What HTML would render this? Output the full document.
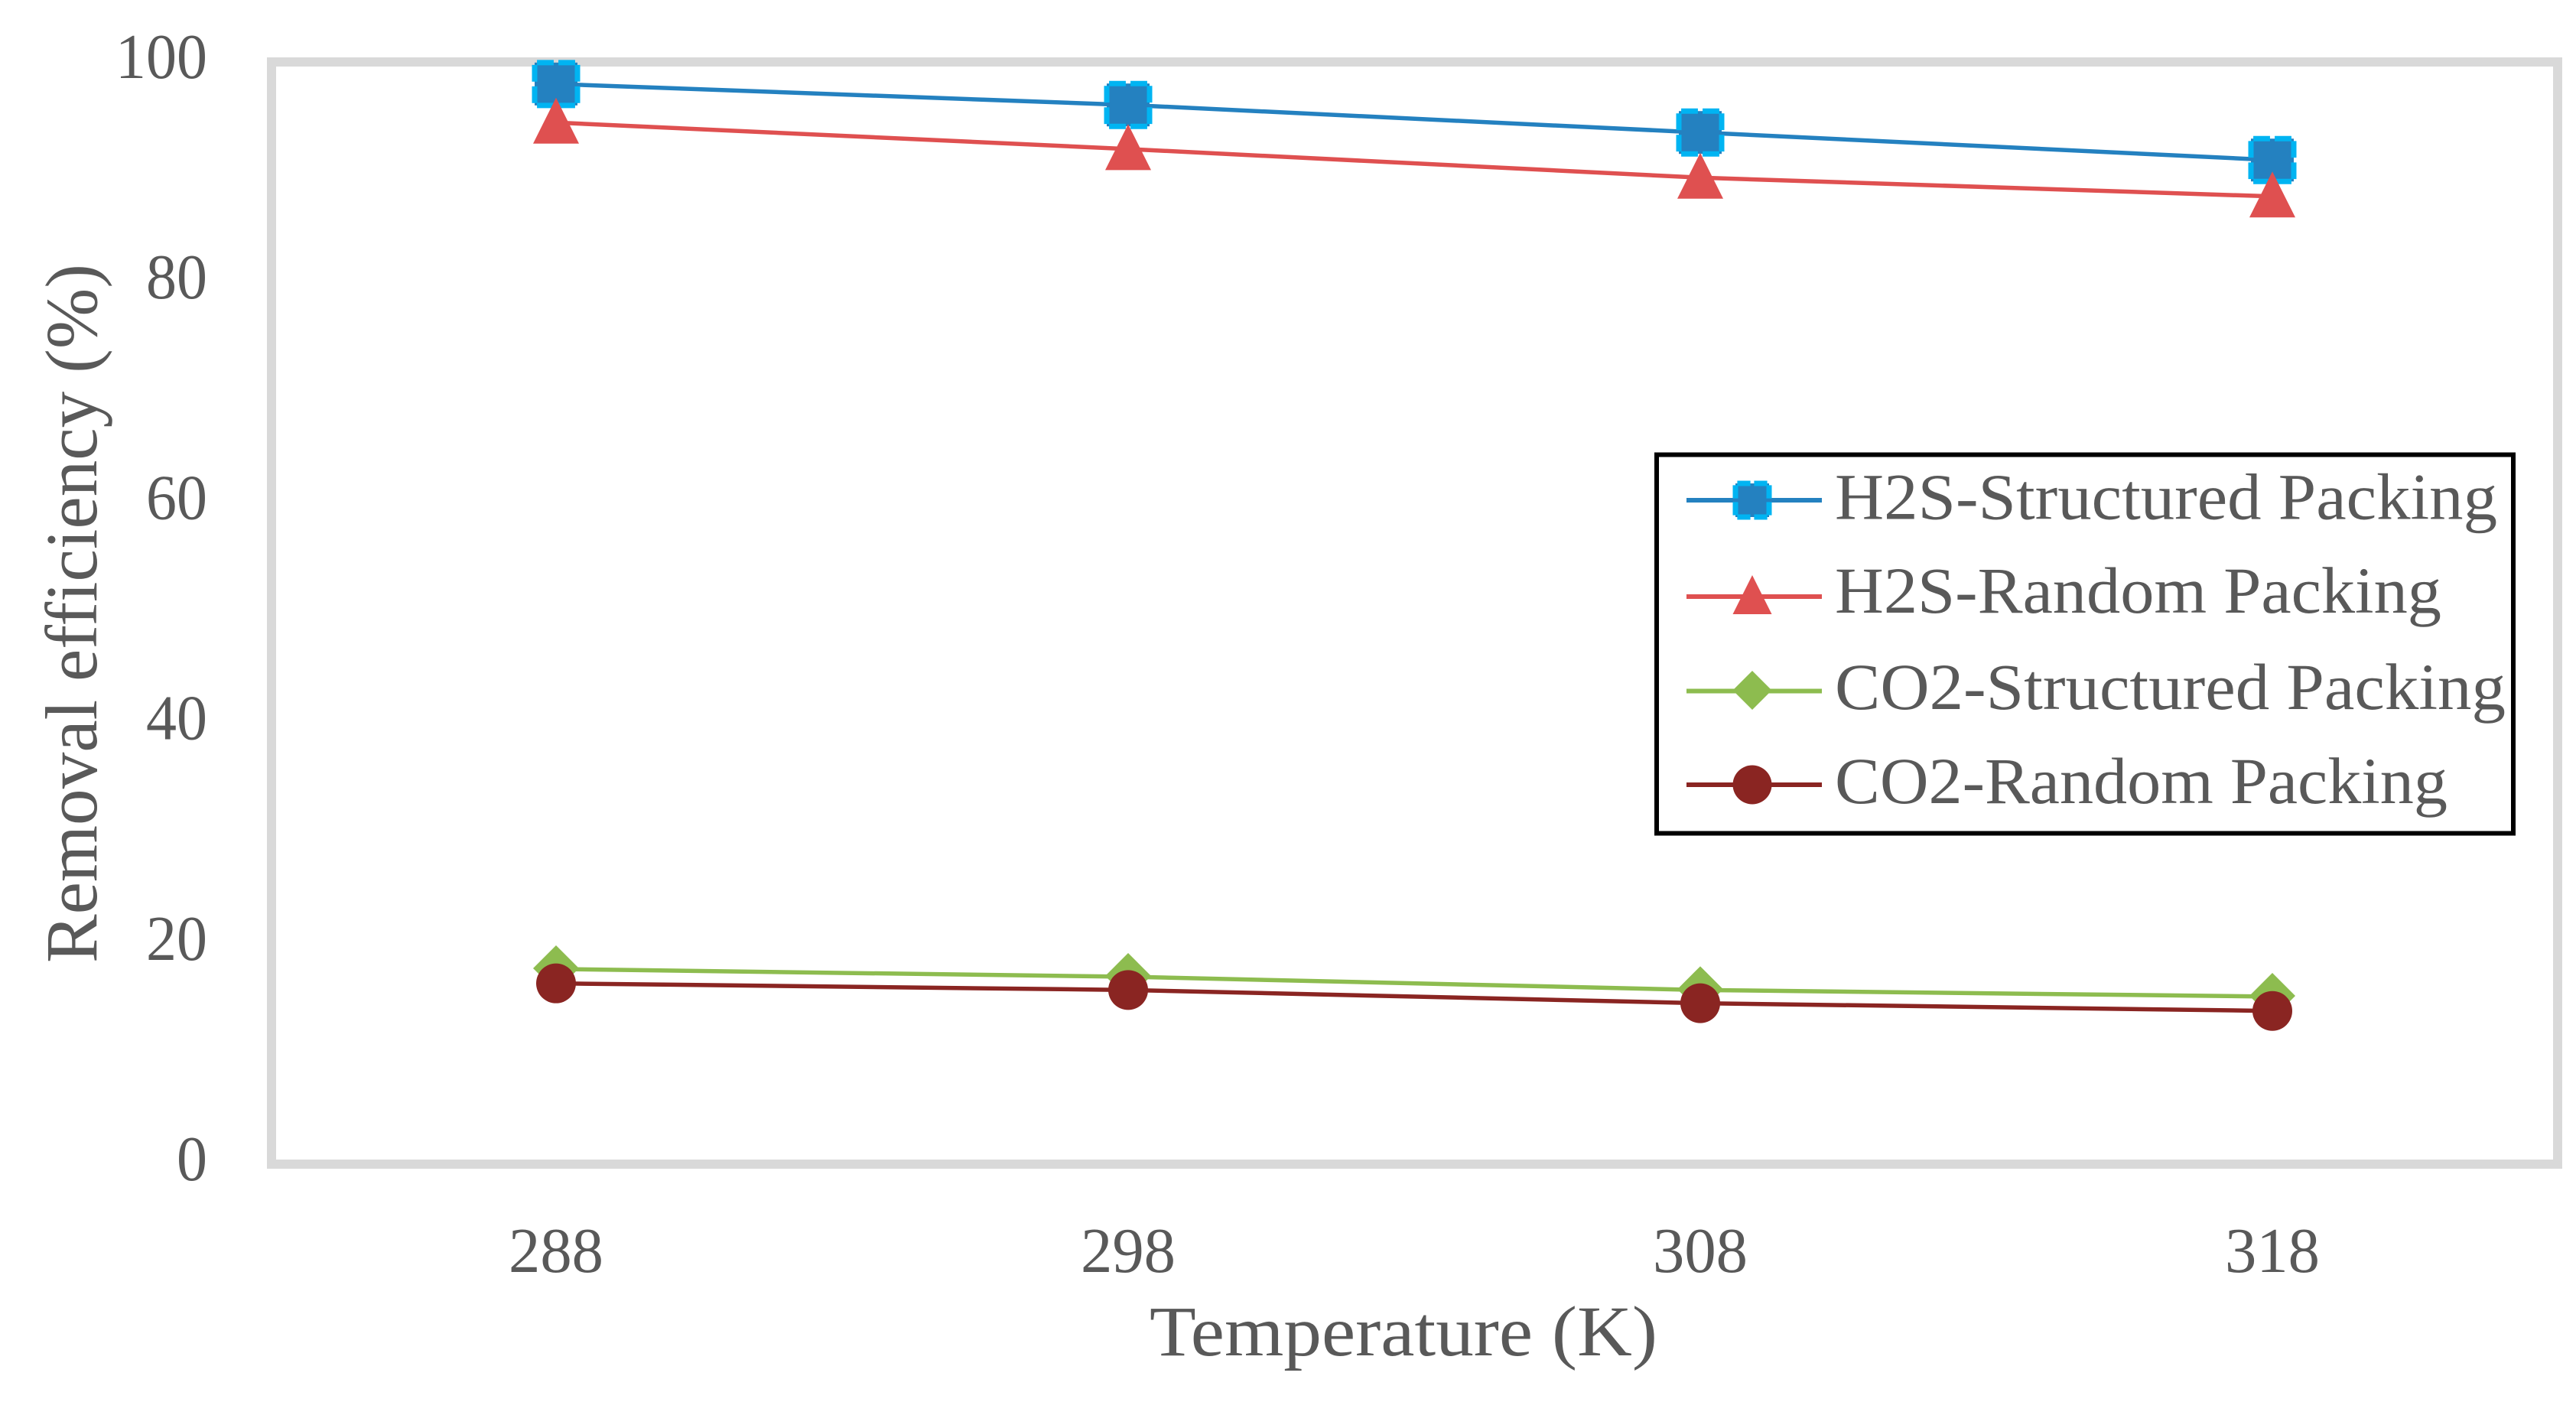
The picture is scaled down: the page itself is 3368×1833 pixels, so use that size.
<!DOCTYPE html>
<html lang="en">
<head>
<meta charset="utf-8">
<title>Removal efficiency vs temperature</title>
<style>
  html, body { margin: 0; padding: 0; background: #ffffff; }
  #chart { display: block; width: 3368px; height: 1833px; }
  text { font-family: "Liberation Serif", serif; fill: #595959; }
</style>
</head>
<body>
<svg id="chart" xmlns="http://www.w3.org/2000/svg" width="3368" height="1833" viewBox="0 0 3368 1833"></svg>
<script>
const categories = ['288', '298', '308', '318'];
const yTicks = [0, 20, 40, 60, 80, 100];
const seriesNames = ['H2S-Structured Packing', 'H2S-Random Packing', 'CO2-Structured Packing', 'CO2-Random Packing'];
const h2sStructured = [98.0, 96.1, 93.6, 91.1];
const h2sRandom = [94.5, 92.1, 89.5, 87.8];
const co2Structured = [17.7, 17.0, 15.8, 15.2];
const co2Random = [16.4, 15.8, 14.6, 13.9];

const SVG_NS = 'http://www.w3.org/2000/svg';
const svg = document.getElementById('chart');

function x(i) { return 727 + 748 * i; }
function y(v) { return 1522 - 14.41 * v; }

function make(tag, attrs, parent) {
  const el = document.createElementNS(SVG_NS, tag);
  for (const k in attrs) el.setAttribute(k, attrs[k]);
  (parent || svg).appendChild(el);
  return el;
}

const styles = [
  { line: '#2481c0', kind: 'square', values: h2sStructured, key: 'h2s-structured' },
  { line: '#df5050', kind: 'triangle', values: h2sRandom, key: 'h2s-random' },
  { line: '#8dbc4f', kind: 'diamond', values: co2Structured, key: 'co2-structured' },
  { line: '#8a2522', kind: 'circle', values: co2Random, key: 'co2-random' }
];

function drawMarker(kind, cx, cy, half, color, parent) {
  if (kind === 'square') {
    const inset = half - 3.5;
    const side = inset * 2;
    const dash = side * 0.39;
    const gap = side * 0.11;
    return make('rect', {
      x: cx - inset, y: cy - inset, width: side, height: side,
      fill: color, stroke: '#00b4f2', 'stroke-width': 7,
      'stroke-dasharray': dash + ' ' + gap,
      'stroke-dashoffset': -gap / 2
    }, parent);
  }
  if (kind === 'triangle') {
    const c = cy - 2.5;
    return make('polygon', {
      points: cx + ',' + (c - half) + ' ' + (cx + half) + ',' + (c + half) + ' ' + (cx - half) + ',' + (c + half),
      fill: color
    }, parent);
  }
  if (kind === 'diamond') {
    const d = cy - 1;
    return make('polygon', {
      points: cx + ',' + (d - half) + ' ' + (cx + half) + ',' + d + ' ' + cx + ',' + (d + half) + ' ' + (cx - half) + ',' + d,
      fill: color
    }, parent);
  }
  return make('circle', { cx: cx, cy: cy, r: Math.min(half, 26), fill: color }, parent);
}

/* plot frame */
const frame = make('rect', { x: 355, y: 81, width: 2989, height: 1441, fill: '#ffffff', stroke: '#d9d9d9', 'stroke-width': 12 });



/* y axis tick labels */
yTicks.forEach(function (t) {
  const label = make('text', {
    x: 271, y: y(t) + 21, 'font-size': 84, 'text-anchor': 'end',
    textLength: String(t).length * 40, lengthAdjust: 'spacingAndGlyphs'
  });
  label.textContent = String(t);
  
  
});

/* x axis tick labels */
categories.forEach(function (c, i) {
  const label = make('text', {
    x: x(i), y: 1663, 'font-size': 84, 'text-anchor': 'middle',
    textLength: 124, lengthAdjust: 'spacingAndGlyphs'
  });
  label.textContent = c;
  
  
});

/* axis titles */
const xTitle = make('text', { x: 1503, y: 1772, 'font-size': 93, textLength: 664, lengthAdjust: 'spacingAndGlyphs' });
xTitle.textContent = 'Temperature (K)';



const yTitle = make('text', {
  x: 0, y: 0, 'font-size': 96, textLength: 914, lengthAdjust: 'spacingAndGlyphs',
  transform: 'translate(126 1259) rotate(-90)'
});
yTitle.textContent = 'Removal efficiency (%)';



/* series */
styles.forEach(function (s) {
  const group = make('g', {});
  
  

  const pts = s.values.map(function (v, i) { return x(i) + ',' + y(v); }).join(' ');
  const line = make('polyline', { points: pts, fill: 'none', stroke: s.line, 'stroke-width': 5.5 }, group);
  
  

  s.values.forEach(function (v, i) {
    const m = drawMarker(s.kind, x(i), y(v), s.kind === 'square' ? 31.5 : 30, s.line, group);
    
    
  });
});

/* legend */
const legend = make('g', {});



const legendBox = make('rect', { x: 2166, y: 594.5, width: 1120, height: 495, fill: '#ffffff', stroke: '#000000', 'stroke-width': 6 }, legend);



const legendRowY = [654, 780, 903.5, 1026];
const legendBaseline = [678.5, 801, 927, 1050];
const legendWidths = [866, 793, 877, 801];

styles.forEach(function (s, i) {
  const row = make('g', {}, legend);
  
  

  make('line', { x1: 2205, x2: 2382, y1: legendRowY[i], y2: legendRowY[i], stroke: s.line, 'stroke-width': 6 }, row);
  drawMarker(s.kind, 2291, legendRowY[i], 25.5, s.line, row);

  const label = make('text', {
    x: 2399, y: legendBaseline[i], 'font-size': 86,
    textLength: legendWidths[i], lengthAdjust: 'spacingAndGlyphs'
  }, row);
  label.textContent = seriesNames[i];
  
  
});
</script>
</body>
</html>
